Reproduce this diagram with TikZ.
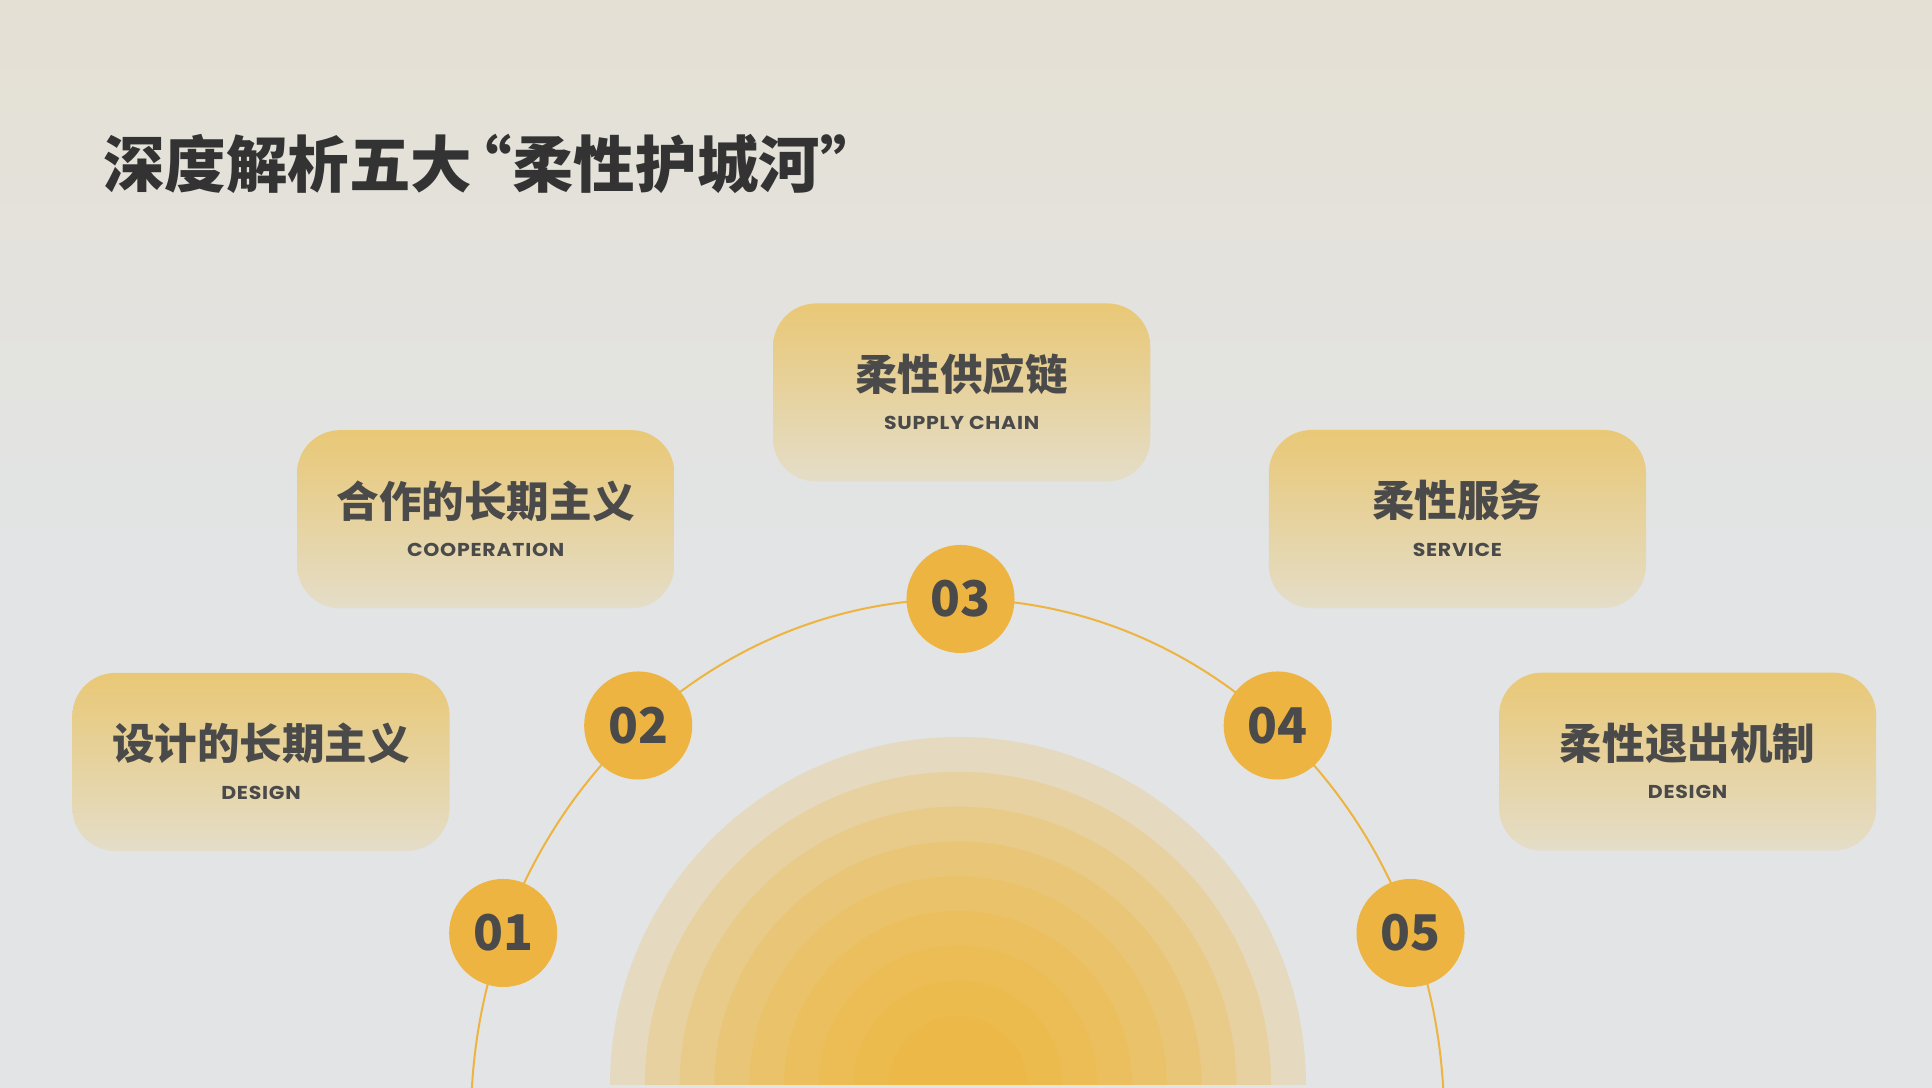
\documentclass[tikz,border=0pt]{standalone}
\usepackage{fontspec}
\newfontfamily\cjk{Noto Sans CJK SC}
\newfontfamily\cjkheavy{Noto Sans CJK SC Black}
\newfontfamily\enf[LetterSpace=4, FakeStretch=1.1]{Poppins}

\definecolor{bgtop}{RGB}{229,224,212}
\definecolor{bgbot}{RGB}{226,228,229}
\definecolor{sunc}{RGB}{240,182,56}
\definecolor{dotc}{RGB}{237,180,65}
\definecolor{boxtop}{RGB}{233,200,118}
\definecolor{boxbot}{RGB}{228,221,200}
\definecolor{ink}{RGB}{74,74,74}
\definecolor{titleink}{RGB}{51,51,51}

\tikzstyle{box} = [rounded corners=0.43cm, minimum width=3.77cm, minimum height=1.78cm, top color=boxtop, bottom color=boxbot, inner sep=0]
\tikzstyle{dot} = [circle, fill=dotc, minimum size=1.08cm, inner sep=0, text=ink, font=\cjk\bfseries\fontsize{14}{14}\selectfont]
\tikzstyle{cn} = [anchor=base, inner sep=0, text=ink, font=\cjkheavy\fontsize{12.1}{12.1}\selectfont]
\tikzstyle{en} = [anchor=base, inner sep=0, text=ink, font=\enf\bfseries\fontsize{5.3}{5.3}\selectfont]
\tikzstyle{link} = [draw=dotc, line width=0.57pt]

\begin{document}
\begin{tikzpicture}[x=0.01cm, y=0.01cm]
\useasboundingbox (0,0) rectangle (1932,1088);
\shade[top color=bgtop, bottom color=bgbot, middle color=bgbot] (0,0) rectangle (1932,1088);

% sun
\foreach \i in {0,...,8}{
	\pgfmathsetmacro\r{348-34.8*\i}
	\fill[sunc, fill opacity=0.22] ({958-\r},3) arc[start angle=180, end angle=0, radius=\r] -- cycle;
}

% arc through the steps
\draw[link] (1443.2,0) arc[start angle=3.52, end angle=176.48, x radius=486.6, y radius=521];

\node[dot] (c01) at (503.2,155) {01};
\node[dot] (c02) at (638.2,362.5) {02};
\node[dot] (c03) at (960.5,489) {03};
\node[dot] (c04) at (1277.7,362.5) {04};
\node[dot] (c05) at (1410.5,155) {05};

% boxes
\node[box] (b01) at (261,326) {};
\node[cn] (b01cn) at ([yshift=0.02cm]b01.center) {设计的长期主义};
\node[en] (b01en) at ([yshift=-0.37cm]b01.center) {DESIGN};

\node[box] (b02) at (485.7,568.8) {};
\node[cn] (b02cn) at ([yshift=0.02cm]b02.center) {合作的长期主义};
\node[en] (b02en) at ([yshift=-0.37cm]b02.center) {COOPERATION};

\node[box] (b03) at (961.7,695.5) {};
\node[cn] (b03cn) at ([yshift=0.02cm]b03.center) {柔性供应链};
\node[en] (b03en) at ([yshift=-0.37cm]b03.center) {SUPPLY CHAIN};

\node[box] (b04) at (1457.4,569) {};
\node[cn] (b04cn) at ([yshift=0.02cm]b04.center) {柔性服务};
\node[en] (b04en) at ([yshift=-0.37cm]b04.center) {SERVICE};

\node[box] (b05) at (1687.6,326.3) {};
\node[cn] (b05cn) at ([yshift=0.02cm]b05.center) {柔性退出机制};
\node[en] (b05en) at ([yshift=-0.37cm]b05.center) {DESIGN};

% title
\node[anchor=base west, inner sep=0, text=titleink, font=\cjkheavy\fontsize{17.5}{17.5}\selectfont] (title) at (102.5,900.6) {深度解析五大\kern-0.35em“柔性护城河”};
\end{tikzpicture}
\end{document}
